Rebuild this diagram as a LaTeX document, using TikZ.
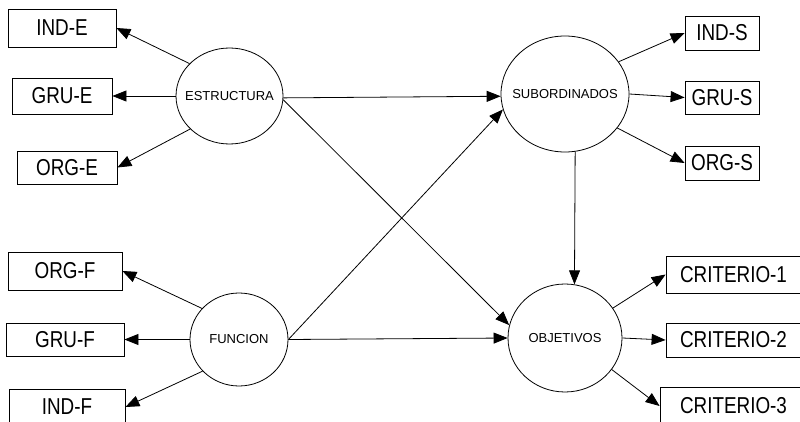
\documentclass[tikz,border=0pt]{standalone}
\usepackage{fontspec}
\setmainfont{Liberation Sans}
\newfontfamily\boxfont[FakeStretch=0.82]{Liberation Sans}
\usetikzlibrary{shapes.geometric,arrows.meta}
\tikzset{
  bx/.style={draw, line width=0.8pt, inner sep=0pt, font=\boxfont\fontsize{23}{25}\selectfont},
  ell/.style={draw, ellipse, line width=0.8pt, inner sep=0pt},
  elbl/.style={font=\fontsize{13}{15}\selectfont, inner sep=0pt},
  arr/.style={-{Triangle[length=14pt,width=11pt]}, line width=0.8pt}
}
\begin{document}
\begin{tikzpicture}[x=1pt,y=-1pt]
\useasboundingbox (0,0) rectangle (800,422);
\clip (0,0) rectangle (800,422);
% boxes left
\node[bx, minimum width=108pt, minimum height=38pt] (inde) at (62,28) {IND-E};
\node[bx, minimum width=100pt, minimum height=36pt] (grue) at (62,96) {GRU-E};
\node[bx, minimum width=100pt, minimum height=33pt] (orge) at (67,167.5) {ORG-E};
\node[bx, minimum width=114pt, minimum height=38pt] (orgf) at (65,271) {ORG-F};
\node[bx, minimum width=118pt, minimum height=33pt] (gruf) at (65,339.5) {GRU-F};
\node[bx, minimum width=116pt, minimum height=36pt] (indf) at (67,407) {IND-F};
% boxes right
\node[bx, minimum width=74pt, minimum height=34pt] (inds) at (722,33) {IND-S};
\node[bx, minimum width=74pt, minimum height=33pt] (grus) at (722,97.5) {GRU-S};
\node[bx, minimum width=74pt, minimum height=34pt] (orgs) at (722,163) {ORG-S};
\node[bx, minimum width=135pt, minimum height=37pt] (c1) at (733.5,274.5) {CRITERIO-1};
\node[bx, minimum width=135pt, minimum height=34pt] (c2) at (733.5,340) {CRITERIO-2};
\node[bx, minimum width=141pt, minimum height=38pt] (c3) at (730.5,406) {\hspace*{6pt}CRITERIO-3};
% ellipses
\node[ell, minimum width=107pt, minimum height=96pt] (est) at (229.5,96) {};
\node[elbl] (estl) at (est) {ESTRUCTURA};
\node[ell, minimum width=128pt, minimum height=116pt] (sub) at (565,94) {};
\node[elbl] (subl) at (sub) {SUBORDINADOS};
\node[ell, minimum width=98pt, minimum height=93pt] (fun) at (239,339.5) {};
\node[elbl] (funl) at (fun) {FUNCION};
\node[ell, minimum width=114pt, minimum height=108pt] (obj) at (565,338) {};
\node[elbl] (objl) at (obj) {OBJETIVOS};
% connectors
\draw[arr] (est.141.5) -- (inde.east);
\draw[arr] (est.west) -- (grue.east);
\draw[arr] (est.220) -- (orge.east);
\draw[arr] (est.-2) -- (sub.182);
\draw[arr] (est.-4) -- (obj.167);
\draw[arr] (fun.east) -- (sub.194);
\draw[arr] (fun.east) -- (obj.west);
\draw[arr] (fun.140) -- (orgf.east);
\draw[arr] (fun.west) -- (gruf.east);
\draw[arr] (fun.221) -- (indf.east);
\draw[arr] (sub.31) -- (inds.west);
\draw[arr] (sub.east) -- (grus.west);
\draw[arr] (sub.-33) -- (orgs.west);
\draw[arr] (sub.-80) -- (obj.80);
\draw[arr] (obj.32) -- (c1.west);
\draw[arr] (obj.east) -- (c2.west);
\draw[arr] (obj.-34) -- (c3.west);
\end{tikzpicture}
\end{document}
